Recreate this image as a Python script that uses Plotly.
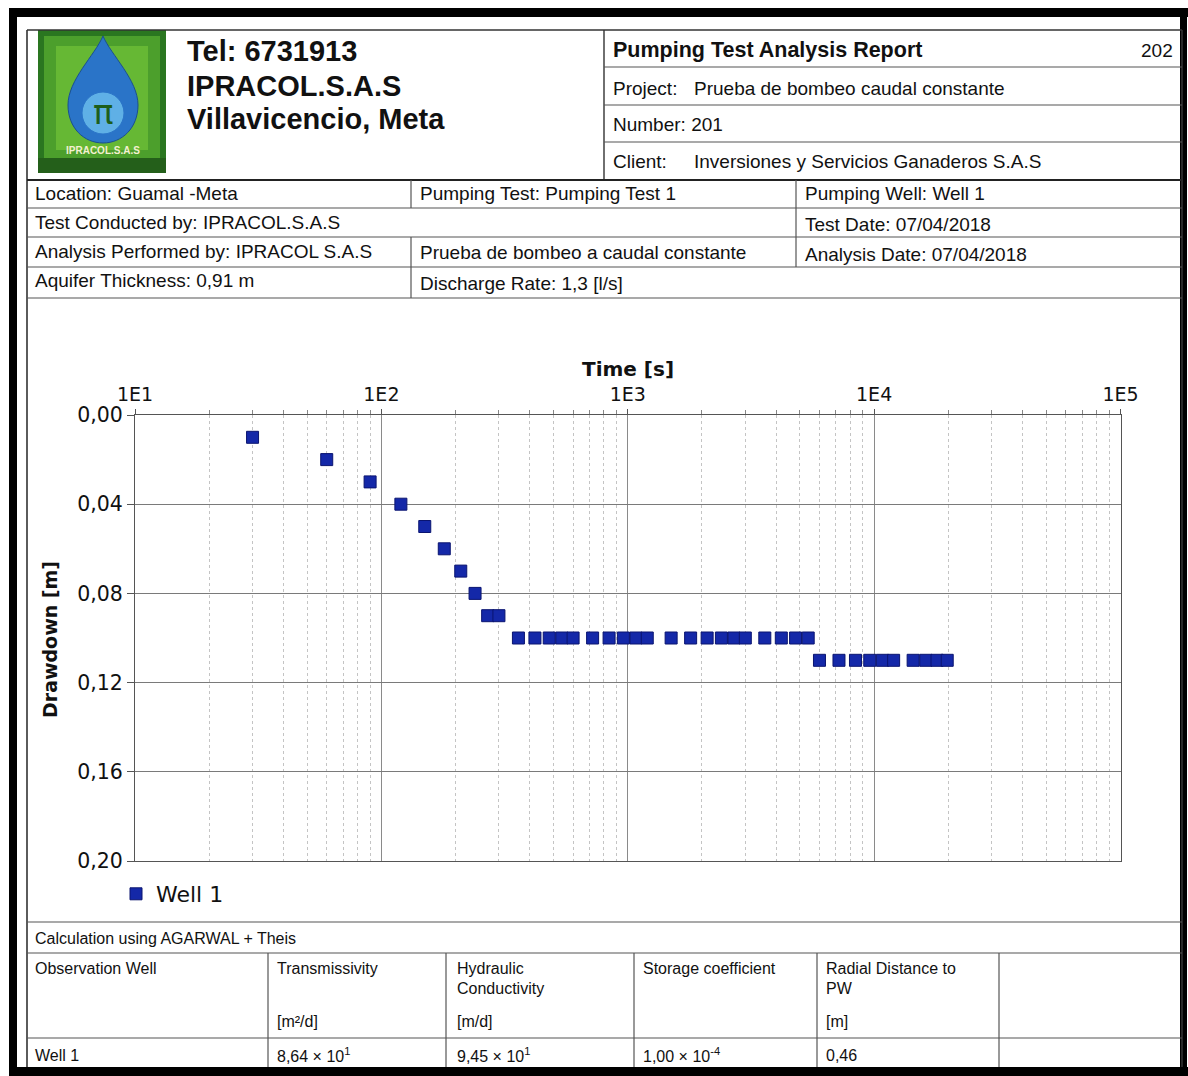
import plotly.graph_objects as go

# ---------------- data ----------------
time_s = [30, 60, 90, 120, 150, 180, 210, 240, 270, 300,
          360, 420, 480, 540, 600, 720, 840, 960, 1080, 1200,
          1500, 1800, 2100, 2400, 2700, 3000, 3600, 4200, 4800, 5400,
          6000, 7200, 8400, 9600, 10800, 12000, 14400, 16200, 18000, 19800]
drawdown_m = [0.01, 0.02, 0.03, 0.04, 0.05, 0.06, 0.07, 0.08, 0.09, 0.09,
              0.10, 0.10, 0.10, 0.10, 0.10, 0.10, 0.10, 0.10, 0.10, 0.10,
              0.10, 0.10, 0.10, 0.10, 0.10, 0.10, 0.10, 0.10, 0.10, 0.10,
              0.11, 0.11, 0.11, 0.11, 0.11, 0.11, 0.11, 0.11, 0.11, 0.11]
series_name = "Well 1"
x_tick_vals = [10, 100, 1000, 10000, 100000]
x_tick_text = ["1E1", "1E2", "1E3", "1E4", "1E5"]
y_tick_vals = [0.00, 0.04, 0.08, 0.12, 0.16, 0.20]
y_tick_text = ["0,00", "0,04", "0,08", "0,12", "0,16", "0,20"]

W, H = 1188, 1076


def X(px):
    return px / W


def Y(py):
    return 1 - py / H


SANS = "Liberation Sans, Arial, sans-serif"
CHART = "DejaVu Sans, Verdana, sans-serif"

fig = go.Figure()
fig.add_trace(go.Scatter(
    x=time_s, y=drawdown_m, mode="markers", name=series_name,
    marker=dict(symbol="square", size=12, color="#1428a8",
                line=dict(color="#0a1470", width=1)),
))

shapes = []


def rect(x0, y0, x1, y1, fill, lw=0, lc=None):
    shapes.append(dict(type="rect", xref="paper", yref="paper",
                       x0=X(x0), x1=X(x1), y0=Y(y1), y1=Y(y0),
                       fillcolor=fill, line=dict(width=lw, color=lc or fill),
                       layer="below"))


def hline(y, x0, x1, w=1.2, c="#555555"):
    shapes.append(dict(type="line", xref="paper", yref="paper",
                       x0=X(x0), x1=X(x1), y0=Y(y), y1=Y(y),
                       line=dict(width=w, color=c), layer="above"))


def vline(x, y0, y1, w=1.2, c="#555555"):
    shapes.append(dict(type="line", xref="paper", yref="paper",
                       x0=X(x), x1=X(x), y0=Y(y0), y1=Y(y1),
                       line=dict(width=w, color=c), layer="above"))


# black scan frame
rect(9, 8, 1188, 17, "#000000")
rect(9, 8, 17, 1076, "#000000")
rect(9, 1067, 1188, 1076, "#000000")
rect(1180, 8, 1187, 1076, "#000000")

# logo
rect(38, 30, 166, 173, "#2a7620")
rect(44, 36, 160, 160, "#4c9f2c")
rect(56, 46, 148, 150, "#66b834")
pts = [(103, 36), (95, 55), (68, 80), (68, 105), (68, 128), (84, 143), (103, 143),
       (122, 143), (138, 128), (138, 105), (138, 80), (111, 55), (103, 36)]
p = "M %f,%f " % (X(pts[0][0]), Y(pts[0][1]))
for i in range(1, len(pts), 3):
    a, b, c = pts[i], pts[i + 1], pts[i + 2]
    p += "C %f,%f %f,%f %f,%f " % (X(a[0]), Y(a[1]), X(b[0]), Y(b[1]), X(c[0]), Y(c[1]))
p += "Z"
shapes.append(dict(type="path", xref="paper", yref="paper", path=p,
                   fillcolor="#2a74c8", line=dict(width=1, color="#1a4f90"), layer="below"))
shapes.append(dict(type="circle", xref="paper", yref="paper",
                   x0=X(82), x1=X(124), y0=Y(134), y1=Y(92),
                   fillcolor="#5fb0e6", line=dict(width=1, color="#2a74c8"), layer="below"))
rect(38, 158, 166, 173, "#245f1a")

# header table lines
dark = "#333333"
hline(30, 27, 1182, 1.6, dark)
vline(27, 30, 1067, 1.6, dark)
vline(1182, 30, 1067, 1.6, dark)
vline(604, 30, 180, 1.4, dark)
for yy in (67, 105, 142):
    hline(yy, 604, 1182, 1.2)
hline(180, 27, 1182, 2.2, "#222222")
for yy in (208, 237, 267, 298):
    hline(yy, 27, 1182, 1.2)
vline(411, 180, 208)
vline(411, 237, 298)
vline(796, 180, 267)
# bottom table lines
for yy in (922, 953, 1038):
    hline(yy, 27, 1182, 1.2)
for xx in (268, 446, 634, 817, 999):
    vline(xx, 953, 1067)

ann = []


def txt(s, x, y, size=18, bold=False, anchor="left", font=SANS, color="#111111"):
    ann.append(dict(text=("<b>%s</b>" % s) if bold else s, x=X(x), y=Y(y),
                    xref="paper", yref="paper", showarrow=False,
                    xanchor=anchor, yanchor="middle", borderpad=0, borderwidth=0,
                    font=dict(family=font, size=size, color=color)))


RS = 19
txt("Tel: 6731913", 187, 51, 29, True)
txt("IPRACOL.S.A.S", 187, 86, 29, True)
txt("Villavicencio, Meta", 187, 119, 29, True)
txt("π", 103, 112, 34, False, "center", "DejaVu Sans", "#1d5e1a")
txt("IPRACOL.S.A.S", 103, 150, 10, True, "center", SANS, "#f4f0d0")

txt("Pumping Test Analysis Report", 613, 50, 21.5, True)
txt("202", 1173, 51, 19, False, "right")
txt("Project:", 613, 88, RS)
txt("Prueba de bombeo caudal constante", 694, 88, RS)
txt("Number: 201", 613, 124, RS)
txt("Client:", 613, 161, RS)
txt("Inversiones y Servicios Ganaderos S.A.S", 694, 161, RS)

txt("Location: Guamal -Meta", 35, 193, RS)
txt("Pumping Test: Pumping Test 1", 420, 193, RS)
txt("Pumping Well: Well 1", 805, 194, RS)
txt("Test Conducted by: IPRACOL.S.A.S", 35, 222, RS)
txt("Test Date: 07/04/2018", 805, 224, RS)
txt("Analysis Performed by: IPRACOL S.A.S", 35, 252, RS)
txt("Prueba de bombeo a caudal constante", 420, 253, RS)
txt("Analysis Date: 07/04/2018", 805, 254, RS)
txt("Aquifer Thickness: 0,91 m", 35, 281, RS)
txt("Discharge Rate: 1,3 [l/s]", 420, 283, RS)

# chart titles
txt("Time [s]", 628, 369, 20, True, "center", CHART)
ann.append(dict(text="<b>Drawdown [m]</b>", x=X(50), y=Y(640), xref="paper", yref="paper",
                showarrow=False, textangle=-90, xanchor="center", yanchor="middle",
                font=dict(family=CHART, size=19, color="#111111")))

# bottom table text
BS = 16
txt("Calculation using AGARWAL + Theis", 35, 938, BS)
txt("Observation Well", 35, 968, BS)
txt("Transmissivity", 277, 968, BS)
txt("Hydraulic", 457, 968, BS)
txt("Conductivity", 457, 988, BS)
txt("Storage coefficient", 643, 968, BS)
txt("Radial Distance to", 826, 968, BS)
txt("PW", 826, 988, BS)
txt("[m²/d]", 277, 1021, BS)
txt("[m/d]", 457, 1021, BS)
txt("[m]", 826, 1021, BS)
txt("Well 1", 35, 1055, BS)
txt("8,64 × 10<sup>1</sup>", 277, 1055, BS)
txt("9,45 × 10<sup>1</sup>", 457, 1055, BS)
txt("1,00 × 10<sup>-4</sup>", 643, 1055, BS)
txt("0,46", 826, 1055, BS)

fig.update_layout(
    width=W, height=H, autosize=False,
    margin=dict(l=0, r=0, t=0, b=0, pad=0, autoexpand=False),
    paper_bgcolor="white", plot_bgcolor="white",
    shapes=shapes, annotations=ann,
    showlegend=True,
    legend=dict(x=X(116), y=Y(873), xanchor="left", yanchor="top",
                bgcolor="rgba(0,0,0,0)", font=dict(family=CHART, size=22, color="#111111")),
    xaxis=dict(
        type="log", range=[1, 5], side="top", automargin=False,
        domain=[X(135), X(1120.5)],
        tickmode="array", tickvals=x_tick_vals, ticktext=x_tick_text,
        ticks="outside", ticklen=5, tickcolor="#555555",
        tickfont=dict(family=CHART, size=19, color="#111111"),
        showline=True, linecolor="#555555", linewidth=1.2, mirror=True,
        showgrid=True, gridcolor="#8a8a8a", gridwidth=1,
        minor=dict(dtick="D1", showgrid=True, gridcolor="#c4c4c4", griddash="dot",
                   ticks="outside", ticklen=4, tickcolor="#888888"),
        zeroline=False,
    ),
    yaxis=dict(
        range=[0.2, 0], domain=[Y(861), Y(415)], automargin=False,
        tickmode="array", tickvals=y_tick_vals, ticktext=y_tick_text,
        ticks="outside", ticklen=7, tickcolor="#555555",
        tickfont=dict(family=CHART, size=20.5, color="#111111"),
        showline=True, linecolor="#555555", linewidth=1.2, mirror=True,
        showgrid=True, gridcolor="#7a7a7a", gridwidth=1,
        zeroline=False,
    ),
)

fig.write_html("out.html", config={"displayModeBar": False},
               post_script="document.body.style.margin='0';document.body.style.overflow='hidden';")
